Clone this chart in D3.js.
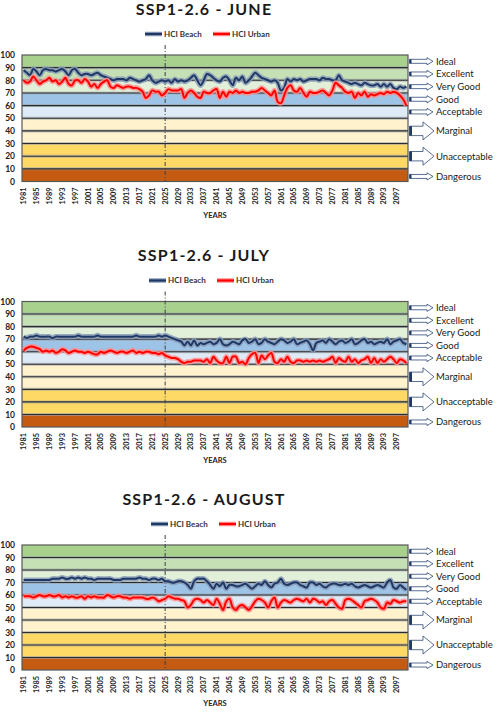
<!DOCTYPE html>
<html>
<head>
<meta charset="utf-8">
<script src="https://cdn.jsdelivr.net/npm/d3@7"></script>
<style>
  body { margin: 0; background: #fff; }
  svg { display: block; font-family: Lato, "Open Sans", sans-serif; }
</style>
</head>
<body>
<svg id="chart" width="503" height="718"></svg>
<script>
// years on the category axis, labels every 4 years
const years = d3.range(1981, 2101);
const tickYears = years.filter((d, i) => i % 4 === 0);
const splitYear = 2025;

const months = ['JUNE', 'JULY', 'AUGUST'];
const scenario = 'SSP1-2.6';
const seriesNames = ['HCI Beach', 'HCI Urban'];

const juneBeach = [
  88, 86, 84, 89, 87, 84, 88, 89, 88, 88,
  87, 88, 89, 87, 84, 88, 89, 86, 84, 85,
  85, 84, 85, 86, 84, 83, 82, 81, 80, 81,
  81, 81, 80, 82, 81, 80, 79, 80, 81, 84,
  80, 78, 79, 80, 79, 80, 78, 81, 79, 80,
  79, 80, 82, 84, 80, 76, 80, 85, 84, 82,
  80, 79, 82, 83, 80, 76, 82, 80, 83, 78,
  80, 83, 86, 84, 82, 81, 80, 79, 80, 78,
  72, 74, 81, 79, 81, 80, 81, 79, 80, 81,
  81, 81, 80, 82, 81, 81, 80, 80, 84, 80,
  79, 78, 77, 78, 77, 76, 78, 77, 76, 76,
  77, 75, 77, 75, 77, 74, 73, 75, 74, 75
];
const juneUrban = [
  80, 78, 79, 83, 80, 77, 79, 80, 82, 79,
  80, 77, 79, 82, 77, 76, 80, 80, 78, 81,
  79, 75, 77, 74, 77, 79, 80, 75, 74, 76,
  75, 74, 75, 75, 74, 74, 73, 71, 66, 68,
  72, 71, 71, 68, 70, 73, 72, 72, 72, 73,
  66, 70, 72, 70, 67, 66, 71, 70, 70, 72,
  73, 66, 71, 67, 71, 70, 72, 70, 71, 70,
  70, 71, 71, 72, 74, 72, 70, 68, 72, 63,
  62, 68, 74, 76, 72, 71, 74, 70, 67, 71,
  70, 70, 71, 72, 70, 68, 72, 78, 76, 74,
  71, 70, 71, 66, 70, 68, 71, 67, 69, 68,
  69, 70, 69, 71, 70, 71, 70, 68, 65, 60
];
const julyBeach = [
  72, 71, 72, 72, 73, 72, 72, 72, 72, 71,
  72, 72, 72, 72, 72, 72, 72, 73, 72, 72,
  72, 72, 72, 73, 72, 72, 72, 72, 72, 72,
  72, 72, 72, 72, 72, 73, 72, 72, 72, 72,
  72, 72, 73, 72, 73, 72, 71, 70, 69, 68,
  65, 68, 65, 69, 65, 67, 66, 67, 68, 66,
  67, 70, 66, 65, 66, 68, 67, 66, 69, 70,
  67, 68, 70, 66, 67, 70, 68, 67, 66, 68,
  70, 69, 67, 68, 70, 66, 67, 68, 69, 66,
  61, 67, 68, 69, 67, 70, 68, 66, 68, 69,
  67, 68, 70, 66, 67, 69, 70, 67, 68, 66,
  67, 68, 67, 70, 66, 68, 69, 70, 67, 66
];
const julyUrban = [
  61, 63, 64, 64, 63, 62, 60, 61, 60, 61,
  59, 60, 62, 61, 59, 60, 61, 60, 60, 59,
  60, 59, 58, 58, 60, 59, 60, 61, 60, 59,
  60, 60, 59, 60, 61, 59, 60, 59, 60, 60,
  59, 59, 58, 59, 57, 56, 55, 55, 54, 52,
  51, 52, 52, 53, 53, 53, 52, 54, 51, 56,
  53, 51, 51, 56, 51, 56, 56, 51, 52, 50,
  55, 58, 59, 51, 57, 54, 57, 59, 52, 51,
  54, 52, 56, 52, 51, 53, 53, 52, 53, 52,
  53, 52, 53, 52, 53, 54, 56, 51, 55, 53,
  52, 56, 52, 54, 51, 53, 54, 56, 51, 55,
  51, 54, 52, 54, 56, 54, 51, 54, 53, 51
];
const augBeach = [
  72, 72, 72, 72, 72, 72, 72, 72, 72, 73,
  73, 73, 74, 73, 73, 74, 73, 74, 73, 74,
  73, 73, 72, 73, 73, 73, 73, 73, 72, 72,
  72, 73, 73, 73, 73, 73, 74, 73, 73, 72,
  73, 73, 72, 73, 71, 71, 70, 70, 71, 71,
  70, 68, 65, 71, 73, 73, 73, 71, 68, 65,
  69, 67, 70, 65, 68, 68, 67, 67, 68, 69,
  67, 65, 67, 69, 68, 71, 68, 66, 69, 70,
  73, 69, 68, 69, 70, 70, 68, 67, 66, 70,
  70, 68, 69, 67, 66, 68, 69, 69, 68, 68,
  69, 68, 69, 67, 66, 67, 68, 67, 66, 67,
  68, 67, 66, 70, 72, 66, 65, 68, 66, 64
];
const augUrban = [
  59, 59, 59, 58, 59, 60, 59, 59, 60, 59,
  59, 60, 58, 59, 58, 59, 58, 58, 59, 57,
  59, 58, 59, 58, 58, 58, 60, 59, 58, 59,
  59, 58, 58, 57, 58, 58, 58, 58, 57, 57,
  58, 57, 55, 56, 57, 59, 58, 57, 57, 56,
  55, 50, 52, 56, 57, 56, 54, 56, 54, 52,
  57, 53, 48, 55, 57, 50, 48, 51, 52, 50,
  48, 51, 55, 57, 56, 54, 50, 55, 58, 50,
  54, 56, 55, 54, 56, 57, 56, 55, 57, 54,
  57, 56, 54, 55, 52, 55, 56, 53, 50, 49,
  56, 57, 56, 54, 52, 50, 55, 56, 57, 56,
  54, 50, 49, 54, 53, 56, 55, 54, 55, 55
];

// comfort classes: band limits and the right-hand labels
const bandLimits = [[90, 100], [80, 90], [70, 80], [60, 70], [50, 60], [30, 50], [10, 30], [0, 10]];
const classNames = ['Ideal', 'Excellent', 'Very Good', 'Good', 'Acceptable', 'Marginal', 'Unacceptable', 'Dangerous'];
const classValues = [95, 85, 75, 65, 55, 40, 20, 4];

const bandColors = ['#a9d18e', '#c5e0b4', '#e2f0d9', '#9dc3e6', '#deebf7', '#fff2cc', '#ffd966', '#c55a11'];
const seriesStyle = [
  { halo: '#8a9cb8', core: '#1f3864' },
  { halo: '#ff8f8f', core: '#ff0000' }
];

const panels = [
  { month: months[0], series: [juneBeach, juneUrban], top: 55, bottom: 181.5, legendX: 208 },
  { month: months[1], series: [julyBeach, julyUrban], top: 301.5, bottom: 427, legendX: 212 },
  { month: months[2], series: [augBeach, augUrban], top: 545, bottom: 670, legendX: 214 }
];

const left = 22;
const right = 408;
const svg = d3.select('#chart');

const xScale = d3.scaleBand().domain(years).range([left, right]);
const xc = (yr) => xScale(yr) + xScale.bandwidth() / 2;

panels.forEach((p) => drawPanel(p));

function drawPanel(p) {
  const g = svg.append('g');
  const yScale = d3.scaleLinear().domain([0, 100]).range([p.bottom, p.top]);

  // title
  g.append('text')
    .attr('x', 204)
    .attr('y', p.top - 40.5)
    .attr('text-anchor', 'middle')
    .style('font-size', '16px')
    .style('font-weight', 'bold')
    .style('letter-spacing', '1.2px')
    .style('fill', '#1a1a1a')
    .text(`${scenario} - ${p.month}`);

  // legend
  const legY = p.top - 21;
  const legItems = [
    { x: p.legendX - 63, name: seriesNames[0], style: seriesStyle[0] },
    { x: p.legendX + 5, name: seriesNames[1], style: seriesStyle[1] }
  ];
  legItems.forEach((it) => {
    g.append('line')
      .attr('x1', it.x).attr('x2', it.x + 17)
      .attr('y1', legY).attr('y2', legY)
      .attr('stroke', it.style.halo).attr('stroke-width', 4.5);
    g.append('line')
      .attr('x1', it.x).attr('x2', it.x + 17)
      .attr('y1', legY).attr('y2', legY)
      .attr('stroke', it.style.core).attr('stroke-width', 2.2);
    g.append('text')
      .attr('x', it.x + 19)
      .attr('y', legY + 2.8)
      .style('font-size', '8px')
      .style('font-weight', 'bold')
      .style('fill', '#333')
      .text(it.name);
  });

  // background bands
  g.append('g')
    .selectAll('rect')
    .data(bandLimits)
    .join('rect')
    .attr('x', left)
    .attr('width', right - left)
    .attr('y', (d) => yScale(d[1]))
    .attr('height', (d) => yScale(d[0]) - yScale(d[1]))
    .attr('fill', (d, i) => bandColors[i]);

  // gridlines every 10
  const grid = d3.range(10, 100, 10);
  g.append('g')
    .selectAll('line')
    .data(grid)
    .join('line')
    .attr('x1', left).attr('x2', right)
    .attr('y1', (d) => yScale(d)).attr('y2', (d) => yScale(d))
    .attr('stroke', '#9aa3ad').attr('stroke-width', 3).attr('opacity', 0.6);
  g.append('g')
    .selectAll('line')
    .data(grid)
    .join('line')
    .attr('x1', left).attr('x2', right)
    .attr('y1', (d) => yScale(d)).attr('y2', (d) => yScale(d))
    .attr('stroke', '#2b2b2b').attr('stroke-width', 1.1);

  g.append('rect')
    .attr('x', left).attr('y', p.top)
    .attr('width', right - left).attr('height', p.bottom - p.top)
    .attr('fill', 'none').attr('stroke', '#595959').attr('stroke-width', 1.2);

  // 2025 separator
  g.append('line')
    .attr('x1', xc(splitYear)).attr('x2', xc(splitYear))
    .attr('y1', p.top - 10).attr('y2', p.bottom)
    .attr('stroke', '#404040').attr('stroke-width', 1)
    .attr('stroke-dasharray', '4,2,1,2');

  // series lines with a soft halo
  const line = d3.line()
    .x((d, i) => xc(years[i]))
    .y((d) => yScale(d))
    .curve(d3.curveCatmullRom.alpha(0.5));

  p.series.forEach((vals, k) => {
    g.append('path')
      .attr('d', line(vals))
      .attr('fill', 'none')
      .attr('stroke', seriesStyle[k].halo)
      .attr('stroke-width', 5.2)
      .attr('stroke-linejoin', 'round')
      .attr('opacity', 0.85);
    g.append('path')
      .attr('d', line(vals))
      .attr('fill', 'none')
      .attr('stroke', seriesStyle[k].core)
      .attr('stroke-width', 2)
      .attr('stroke-linejoin', 'round');
  });

  // y axis
  const yAxis = g.append('g')
    .attr('transform', `translate(${left},0)`)
    .call(d3.axisLeft(yScale).tickValues(d3.range(0, 101, 10)).tickSize(0).tickPadding(7));
  yAxis.select('.domain').remove();
  yAxis.selectAll('text')
    .style('font-family', 'Lato, sans-serif')
    .style('font-size', '8.5px')
    .style('font-weight', 'bold')
    .style('fill', '#222');

  // x axis with rotated year labels
  const xAxis = g.append('g')
    .attr('transform', `translate(0,${p.bottom})`)
    .call(d3.axisBottom(xScale).tickValues(tickYears).tickSize(0));
  xAxis.select('.domain').remove();
  xAxis.selectAll('text')
    .attr('transform', 'rotate(-90)')
    .attr('text-anchor', 'end')
    .attr('x', -6)
    .attr('y', 0)
    .attr('dy', '0.35em')
    .style('font-family', 'Lato, sans-serif')
    .style('font-size', '7.3px')
    .style('font-weight', 'bold')
    .style('fill', '#222');

  g.append('text')
    .attr('x', (left + right) / 2)
    .attr('y', p.bottom + 36)
    .attr('text-anchor', 'middle')
    .style('font-size', '7.5px')
    .style('font-weight', 'bold')
    .style('fill', '#222')
    .text('YEARS');

  // comfort class labels with arrows
  classNames.forEach((name, i) => {
    const cy = yScale(classValues[i]);
    const big = name === 'Marginal' || name === 'Unacceptable';
    const x0 = right + 1.5;
    const x1 = big ? right + 26 : right + 25;
    const sh = big ? 4.7 : 2;
    const hh = big ? 9 : 3.6;
    const hl = big ? 11 : 6;
    const pts = [
      [x0, cy - sh], [x1 - hl, cy - sh], [x1 - hl, cy - hh], [x1, cy],
      [x1 - hl, cy + hh], [x1 - hl, cy + sh], [x0, cy + sh]
    ];
    g.append('path')
      .attr('d', d3.line()(pts) + 'Z')
      .attr('fill', '#fff')
      .attr('stroke', '#2f4a78')
      .attr('stroke-width', 0.8);
    g.append('rect')
      .attr('x', x0).attr('y', cy - sh)
      .attr('width', big ? 2.5 : 2).attr('height', sh * 2)
      .attr('fill', '#1f3864');
    g.append('text')
      .attr('x', right + 28)
      .attr('y', cy + 3.4)
      .style('font-size', '9.5px')
      .style('fill', '#1a1a1a')
      .text(name);
  });
}
</script>
</body>
</html>
